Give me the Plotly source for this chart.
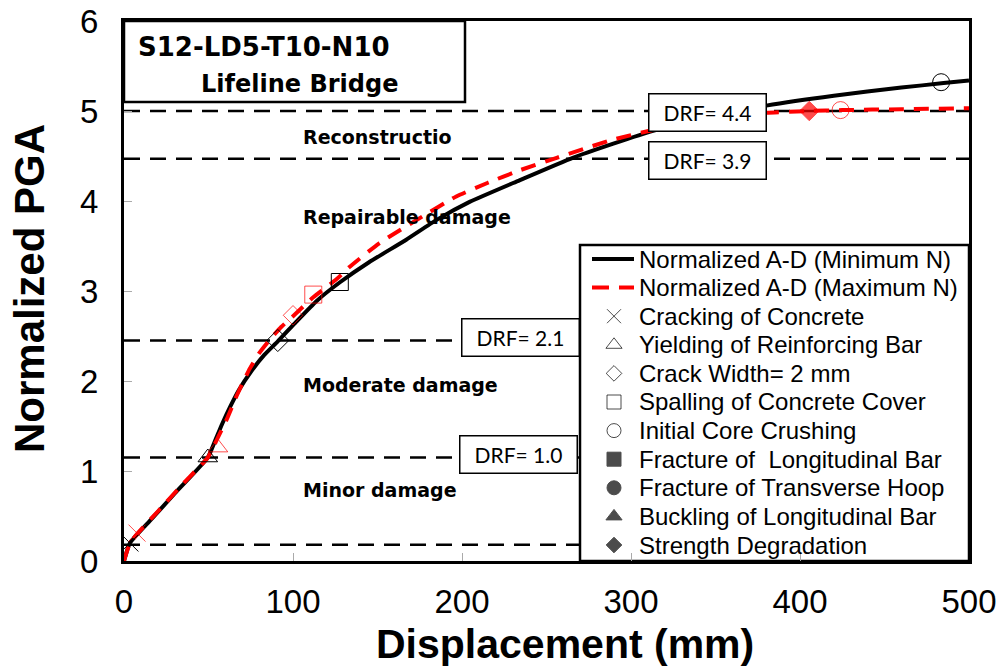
import plotly.graph_objects as go

# ---- data ----
min_x = [0, 3.5, 15, 30, 49.6, 54, 58, 63, 68, 75, 83, 91, 102, 114, 128, 145, 167, 185, 204.5, 234, 265.5, 290, 313, 350, 380, 420, 460, 485, 500]
min_y = [0, 0.20, 0.44, 0.75, 1.15, 1.34, 1.52, 1.72, 1.90, 2.10, 2.29, 2.44, 2.66, 2.89, 3.10, 3.32, 3.57, 3.79, 3.99, 4.23, 4.48, 4.64, 4.78, 4.95, 5.06, 5.17, 5.26, 5.31, 5.34]

max_x = [0, 3.5, 7.7, 20, 35, 49.6, 55, 60.7, 67, 74.5, 80, 86.3, 93, 100, 112, 125.7, 133, 151, 175, 196.6, 215, 234, 256, 289, 311, 345, 380, 405, 425, 460, 500]
max_y = [0, 0.20, 0.30, 0.55, 0.86, 1.15, 1.35, 1.57, 1.85, 2.14, 2.31, 2.46, 2.60, 2.72, 2.93, 3.13, 3.26, 3.53, 3.81, 4.05, 4.20, 4.34, 4.48, 4.68, 4.78, 4.91, 4.98, 5.00, 5.01, 5.02, 5.03]

legend_labels = ["Normalized A-D (Minimum N)", "Normalized A-D (Maximum N)",
                 "Cracking of Concrete", "Yielding of Reinforcing Bar", "Crack Width= 2 mm",
                 "Spalling of Concrete Cover", "Initial Core Crushing", "Fracture of  Longitudinal Bar",
                 "Fracture of Transverse Hoop", "Buckling of Longitudinal Bar", "Strength Degradation"]
event_symbols = ["x-thin-open", "triangle-up-open", "diamond-open", "square-open", "circle-open",
                 "square", "circle", "triangle-up", "diamond"]

min_ev_x = [3.5, 49.6, 91, 127.7, 483.5]
min_ev_y = [0.20, 1.15, 2.45, 3.10, 5.32]
min_ev_sym = ["x-thin-open", "triangle-up-open", "diamond-open", "square-open", "circle-open"]

max_ev_x = [7.7, 55.6, 100, 112, 405.5, 424]
max_ev_y = [0.31, 1.26, 2.73, 2.96, 5.00, 5.01]
max_ev_sym = ["x-thin-open", "triangle-up-open", "diamond-open", "square-open", "diamond", "circle-open"]

limit_y = [0.18, 1.15, 2.45, 4.47, 5.00]

drf_labels = ["DRF= 4.4", "DRF= 3.9", "DRF= 2.1", "DRF= 1.0"]
drf_x = [345, 345, 234.5, 233.5]
drf_y = [4.985, 4.45, 2.48, 1.18]

zone_labels = ["Reconstructio", "Repairable damage", "Moderate damage", "Minor damage"]
zone_y = [4.71, 3.82, 1.96, 0.79]
zone_x = [105, 105, 105, 105]

x_title = "Displacement (mm)"
y_title = "Normalized PGA"

# ---- layout helpers (pixel -> paper) ----
PL, PR, PT, PB = 124, 969, 21, 561
def px(v):
    return (v - PL) / (PR - PL)
def py(v):
    return (PB - v) / (PB - PT)

fig = go.Figure()

# limit-state dashed lines
for yv in limit_y:
    fig.add_trace(go.Scatter(x=[0, 500], y=[yv, yv], mode="lines",
                             line=dict(color="black", width=2.5, dash="16px,10px"),
                             showlegend=False, hoverinfo="skip"))

fig.add_trace(go.Scatter(x=min_x, y=min_y, mode="lines", name=legend_labels[0], showlegend=False,
                         line=dict(color="black", width=4, shape="spline", smoothing=0.5)))
fig.add_trace(go.Scatter(x=max_x, y=max_y, mode="lines", name=legend_labels[1], showlegend=False,
                         line=dict(color="red", width=4, dash="15px,10px", shape="spline", smoothing=0.5)))

fig.add_trace(go.Scatter(x=min_ev_x, y=min_ev_y, mode="markers", showlegend=False,
                         marker=dict(symbol=min_ev_sym, size=17, color="black",
                                     line=dict(color="black", width=1))))
fig.add_trace(go.Scatter(x=max_ev_x, y=max_ev_y, mode="markers", showlegend=False,
                         marker=dict(symbol=max_ev_sym, size=[17, 17, 15, 17, 15, 17], color="red",
                                     line=dict(color="red", width=1))))

# ---- legend (drawn on an overlay axis in paper units) ----
lx0, lx1 = px(580), 1.0
ly0, ly1 = 0.0, py(245)
fig.add_trace(go.Scatter(x=[lx0, lx1, lx1, lx0, lx0], y=[ly0, ly0, ly1, ly1, ly0],
                         xaxis="x2", yaxis="y2", mode="lines", fill="toself",
                         fillcolor="white", line=dict(color="black", width=2.5),
                         showlegend=False, hoverinfo="skip"))
row_y = [py(259 + 28.6 * i) for i in range(len(legend_labels))]
fig.add_trace(go.Scatter(x=[px(592), px(634)], y=[row_y[0], row_y[0]], xaxis="x2", yaxis="y2",
                         mode="lines", line=dict(color="black", width=4),
                         showlegend=False, hoverinfo="skip"))
fig.add_trace(go.Scatter(x=[px(592), px(634)], y=[row_y[1], row_y[1]], xaxis="x2", yaxis="y2",
                         mode="lines", line=dict(color="red", width=4, dash="17px,10px"),
                         showlegend=False, hoverinfo="skip"))
fig.add_trace(go.Scatter(x=[px(614)] * len(event_symbols), y=row_y[2:], xaxis="x2", yaxis="y2",
                         mode="markers",
                         marker=dict(symbol=event_symbols, size=[14, 14, 12, 14, 14, 14, 14, 14, 12],
                                     color="black", line=dict(color="black", width=1)),
                         showlegend=False, hoverinfo="skip"))
for t, yv in zip(legend_labels, row_y):
    fig.add_annotation(x=px(637), y=yv, xref="paper", yref="paper", text=t, showarrow=False,
                       xanchor="left", yanchor="middle",
                       font=dict(family="Liberation Sans", size=24, color="black"))

for t, xv, yv in zip(drf_labels, drf_x, drf_y):
    fig.add_annotation(x=xv, y=yv, text=t, showarrow=False, xref="x", yref="y",
                       font=dict(family="Lato", size=21, color="black"),
                       bgcolor="white", bordercolor="black", borderwidth=1.5,
                       width=114, height=34, borderpad=1)

for t, xv, yv in zip(zone_labels, zone_x, zone_y):
    fig.add_annotation(x=xv, y=yv, text="<b>" + t + "</b>", showarrow=False, xref="x", yref="y",
                       xanchor="left", font=dict(family="DejaVu Sans", size=19, color="black"))

# title box
fig.add_shape(type="rect", xref="paper", yref="paper", x0=0, x1=px(465), y0=py(102), y1=1.0,
              line=dict(color="black", width=2.5), fillcolor="white", layer="above")
fig.add_annotation(xref="paper", yref="paper", x=px(136), y=py(47), xanchor="left", yanchor="middle",
                   text="<b>S12-LD5-T10-N10</b>", showarrow=False,
                   font=dict(family="DejaVu Sans", size=26, color="black"))
fig.add_annotation(xref="paper", yref="paper", x=px(199), y=py(84), xanchor="left", yanchor="middle",
                   text="<b>Lifeline Bridge</b>", showarrow=False,
                   font=dict(family="DejaVu Sans", size=24, color="black"))

# axis titles
fig.add_annotation(xref="paper", yref="paper", x=px(565), y=py(644), xanchor="center", yanchor="middle",
                   text="<b>" + x_title + "</b>", showarrow=False,
                   font=dict(family="Liberation Sans", size=41, color="black"))
fig.add_annotation(xref="paper", yref="paper", x=px(29), y=py(289), xanchor="center", yanchor="middle",
                   text="<b>" + y_title + "</b>", showarrow=False, textangle=-90,
                   font=dict(family="Liberation Sans", size=42, color="black"))

fig.update_layout(
    width=1003, height=666,
    margin=dict(l=PL, r=1003 - PR, t=PT, b=666 - PB, autoexpand=False),
    paper_bgcolor="white", plot_bgcolor="white",
    showlegend=False,
    xaxis=dict(range=[0, 500], tickvals=[0, 100, 200, 300, 400, 500], automargin=False,
               showline=True, linecolor="black", linewidth=3, mirror=True,
               ticks="inside", ticklen=8, tickcolor="#aaaaaa", tickwidth=1,
               showgrid=False, zeroline=False, ticklabelstandoff=9,
               tickfont=dict(family="Liberation Sans", size=33, color="black")),
    yaxis=dict(range=[0, 6], tickvals=[0, 1, 2, 3, 4, 5, 6], automargin=False,
               showline=True, linecolor="black", linewidth=3, mirror=True,
               ticks="inside", ticklen=8, tickcolor="#aaaaaa", tickwidth=1,
               showgrid=False, zeroline=False, ticklabelstandoff=16,
               tickfont=dict(family="Liberation Sans", size=33, color="black")),
    xaxis2=dict(overlaying="x", range=[0, 1], visible=False, fixedrange=True, automargin=False),
    yaxis2=dict(overlaying="y", range=[0, 1], visible=False, fixedrange=True, automargin=False),
)

fig.write_html("out.html")
